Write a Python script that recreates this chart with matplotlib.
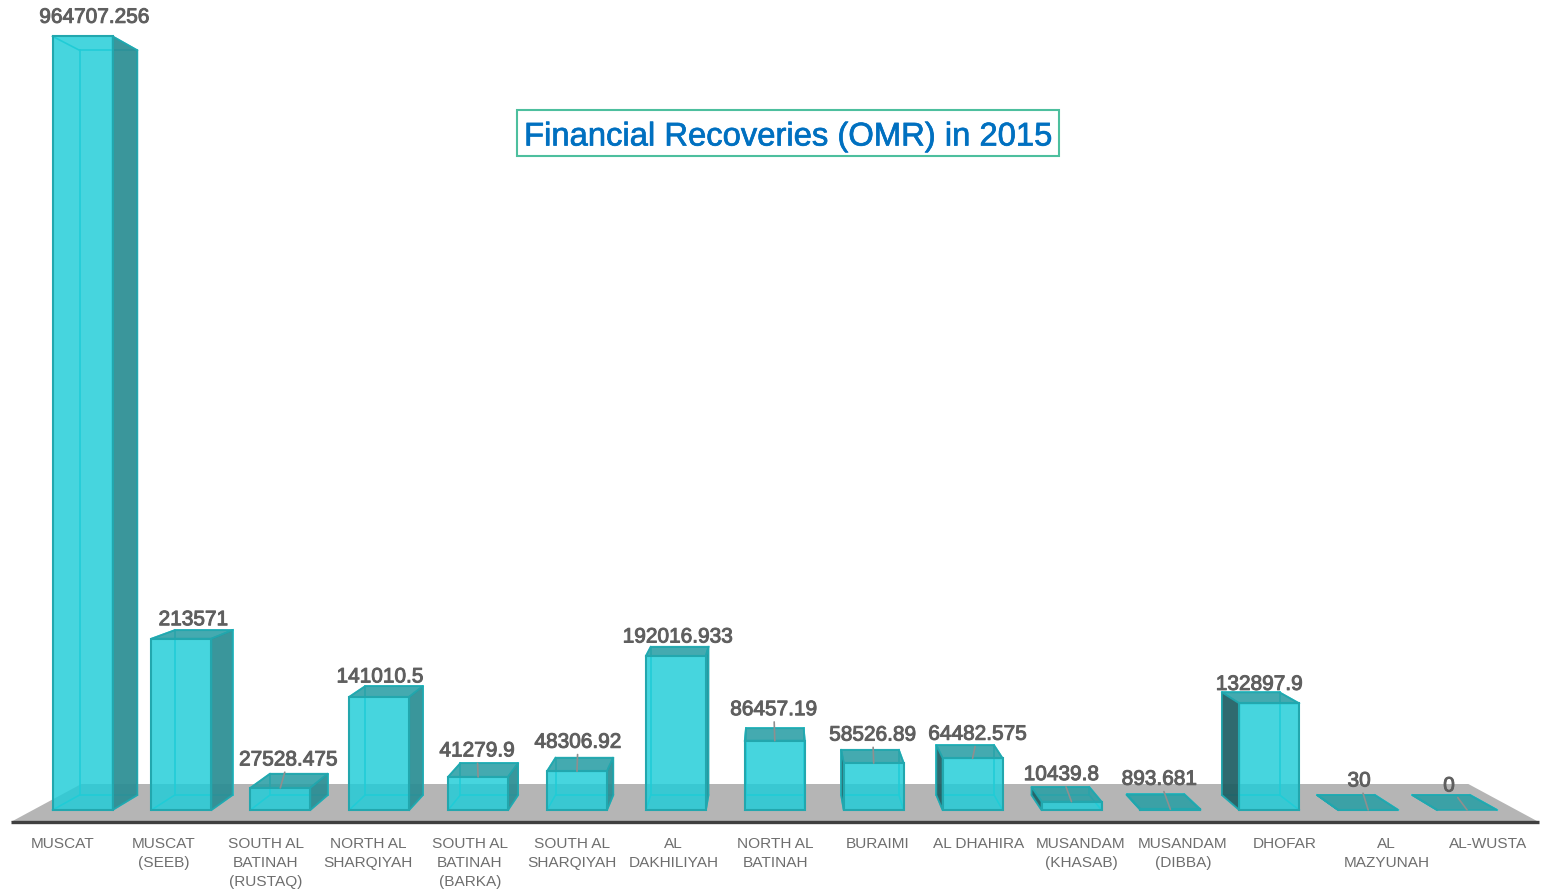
import matplotlib
matplotlib.use("Agg")
import matplotlib.pyplot as plt
import matplotlib.patheffects as pe
from matplotlib.patches import Polygon, Rectangle

# data
categories = ["MUSCAT", "MUSCAT\n(SEEB)", "SOUTH AL\nBATINAH\n(RUSTAQ)", "NORTH AL\nSHARQIYAH",
              "SOUTH AL\nBATINAH\n(BARKA)", "SOUTH AL\nSHARQIYAH", "AL\nDAKHILIYAH", "NORTH AL\nBATINAH",
              "BURAIMI", "AL DHAHIRA", "MUSANDAM\n(KHASAB)", "MUSANDAM\n(DIBBA)", "DHOFAR",
              "AL\nMAZYUNAH", "AL-WUSTA"]
values = [964707.256, 213571, 27528.475, 141010.5, 41279.9, 48306.92, 192016.933, 86457.19,
          58526.89, 64482.575, 10439.8, 893.681, 132897.9, 30, 0]
value_labels = ["964707.256", "213571", "27528.475", "141010.5", "41279.9", "48306.92", "192016.933",
                "86457.19", "58526.89", "64482.575", "10439.8", "893.681", "132897.9", "30", "0"]
title = "Financial Recoveries (OMR) in 2015"

# where each value label sits relative to the front top of its bar, in pixels
label_dx = [12, 12, 8, 1, -1, 1, 2, -1, -1, 5, -10, -11, -10, -9, -18]
label_dy = [19, 19, 28, 20, 26, 29, 19, 31, 28, 24, 27, 30, 19, 29, 24]
has_leader = [False, False, True, False, True, True, False, True, True, True, True, True, False, True, True]

W, H = 1546, 893
X0, X_STEP = 82.5, 98.9      # pixel of first bar centre, pixels per category
Y0, Y_SCALE = 810, 0.000802  # pixel of value 0, pixels per unit
BAR_W = 60 / X_STEP
VX = (775 - X0) / X_STEP   # vanishing point, in data units
VY = (Y0 - 410) / Y_SCALE
BAR_DEPTH = 0.0375

FRONT = "#20cdd8"
EDGE = "#22a7ae"
SIDE_R = "#2b8e94"
SIDE_L = "#1f5f64"
TOP = "#2a9fa5"
TEXT = "#5f5f5f"
TICK = "#6e6e6e"


def project(x, y, d):
    return (x + (VX - x) * d, y + (VY - y) * d)


fig = plt.figure(figsize=(W / 100, H / 100), dpi=100)
ax = fig.add_axes([0, 0, 1, 1])
ax.set_xlim((0 - X0) / X_STEP, (W - X0) / X_STEP)
ax.set_ylim((Y0 - H) / Y_SCALE, Y0 / Y_SCALE)
ax.axis("off")

# floor
n = len(values)
floor = [project(-0.5, 0, -0.03), project(n - 0.5, 0, -0.03), project(n - 0.5, 0, 0.065), project(-0.5, 0, 0.065)]
ax.add_patch(Polygon(floor, closed=True, fc="#b5b5b5", ec="none", zorder=1))
ax.plot([floor[0][0], floor[1][0]], [floor[0][1], floor[1][1]], color="#404040", lw=2.4, zorder=2,
        solid_capstyle="butt")

for i, v in enumerate(values):
    l = i - BAR_W / 2
    r = i + BAR_W / 2
    z = 3 + i * 0.01
    fl, fr = (l, 0), (r, 0)
    tl, tr = (l, v), (r, v)
    bl0 = project(l, 0, BAR_DEPTH)
    br0 = project(r, 0, BAR_DEPTH)
    blv = project(l, v, BAR_DEPTH)
    brv = project(r, v, BAR_DEPTH)

    # inner lines seen through the front
    for a, b in [(bl0, blv), (br0, brv), (bl0, br0), (fl, bl0), (fr, br0), (blv, brv), (tl, blv), (tr, brv)]:
        ax.plot([a[0], b[0]], [a[1], b[1]], color="#25c8d1", lw=1.2, zorder=z)

    if v < VY:
        ax.add_patch(Polygon([tl, tr, brv, blv], closed=True, fc=TOP, ec=EDGE, lw=1.3, alpha=0.88, zorder=z + 0.001))
    if brv[0] > tr[0]:
        ax.add_patch(Polygon([fr, br0, brv, tr], closed=True, fc=SIDE_R, ec=EDGE, lw=1.3, alpha=0.93, zorder=z + 0.002))
    if blv[0] < tl[0]:
        ax.add_patch(Polygon([fl, bl0, blv, tl], closed=True, fc=SIDE_L, ec=EDGE, lw=1.3, alpha=0.93, zorder=z + 0.002))
    if v > 0:
        ax.add_patch(Rectangle((l, 0), BAR_W, v, fc=FRONT, alpha=0.83, ec="none", zorder=z + 0.003))
        ax.add_patch(Rectangle((l, 0), BAR_W, v, fc="none", ec=EDGE, lw=1.5, zorder=z + 0.004))

    arrow = dict(arrowstyle="-", color="#8f8f8f", lw=1.2, shrinkA=0, shrinkB=0) if has_leader[i] else None
    lab = ax.annotate(value_labels[i], xy=(i, v), xytext=(label_dx[i], label_dy[i]), textcoords="offset pixels",
                      ha="center", va="center", fontsize=15, color=TEXT,
                      family="Liberation Sans", arrowprops=arrow, zorder=10)
    lab.set_path_effects([pe.withStroke(linewidth=0.7, foreground=TEXT)])

    # category names sit along the front edge of the floor
    ax.text(project(i, 0, -0.03)[0] + 0.5 / X_STEP, (Y0 - 837) / Y_SCALE, categories[i], ha="center", va="top",
            fontsize=11.1, color=TICK, family="Liberation Sans", linespacing=1.45, zorder=10)

t = fig.text(788 / W, 1 - 137 / H, title, ha="center", va="center", fontsize=23.6, color="#0070c0",
             family="Liberation Sans")
t.set_path_effects([pe.withStroke(linewidth=0.5, foreground="#0070c0")])
fig.add_artist(Rectangle((517 / W, 1 - 156 / H), 542 / W, 46 / H, transform=fig.transFigure, fc="none",
                         ec="#4dbf9e", lw=1.5))

fig.savefig("out.png", dpi=100, facecolor="white")
